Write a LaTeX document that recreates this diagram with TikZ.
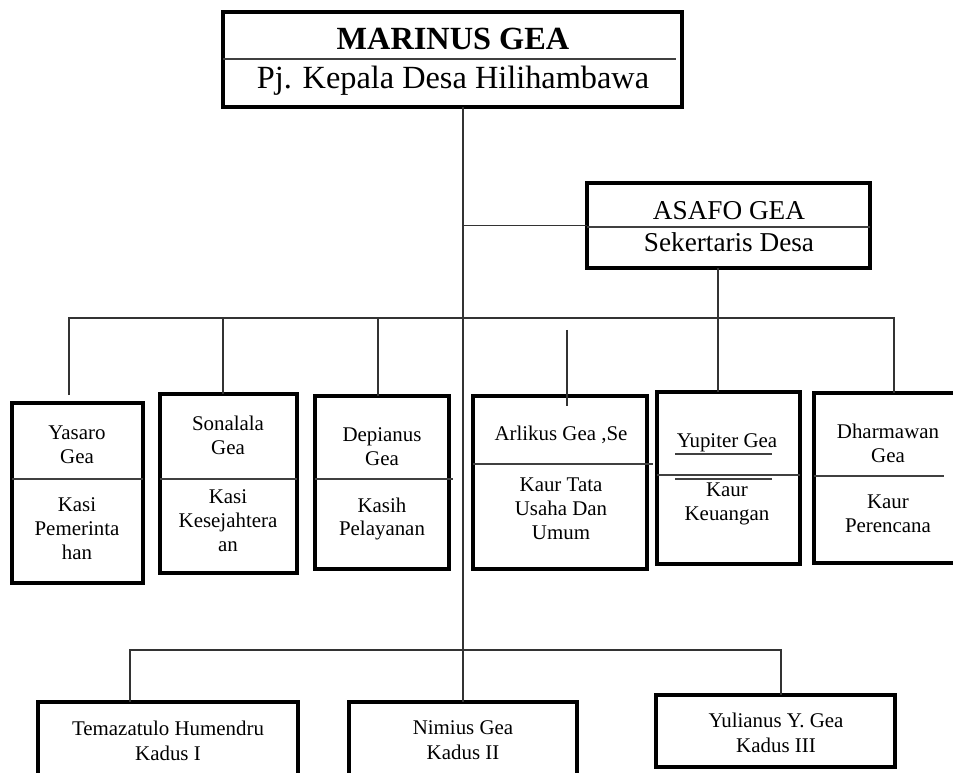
\documentclass[tikz,border=0pt]{standalone}
\usepackage{fontspec}
\setmainfont{Liberation Serif}
\tikzset{
  box/.style={draw, line width=2.3pt, inner sep=0pt, outer sep=0pt},
  link/.style={line width=0.85pt, black!80},
  sep/.style={line width=0.85pt, black!75},
  bigtxt/.style={font=\fontsize{18.4}{22}\selectfont, inner sep=0pt},
  midtxt/.style={font=\fontsize{15.5}{18}\selectfont, inner sep=0pt},
  smalltxt/.style={align=center, font=\fontsize{11.9}{13.6}\selectfont, inner sep=0pt},
  lowtxt/.style={align=center, font=\fontsize{11.9}{14.2}\selectfont, inner sep=0pt},
}
\begin{document}
\begin{tikzpicture}[x=0.02cm, y=-0.02cm]
\useasboundingbox (0,0) rectangle (953,773);
\clip (0,0) rectangle (953,773);

\node[box, minimum width=9.18cm, minimum height=1.9cm] (kades) at (452.5,59.5) {};
\node[box, minimum width=5.66cm, minimum height=1.7cm] (sekdes) at (728.5,225.5) {};
\node[box, minimum width=2.62cm, minimum height=3.6cm] (yasaro) at (77.5,493) {};
\node[box, minimum width=2.74cm, minimum height=3.58cm] (sonalala) at (228.5,483.5) {};
\node[box, minimum width=2.68cm, minimum height=3.46cm] (depianus) at (382,482.5) {};
\node[box, minimum width=3.48cm, minimum height=3.46cm] (arlikus) at (560,482.5) {};
\node[box, minimum width=2.86cm, minimum height=3.44cm] (yupiter) at (728.5,478) {};
\node[box, minimum width=3.02cm, minimum height=3.4cm] (dharmawan) at (889.5,478) {};
\node[box, minimum width=5.2cm, minimum height=1.96cm] (temazatulo) at (168,751) {};
\node[box, minimum width=4.56cm, minimum height=1.96cm] (nimius) at (463,751) {};
\node[box, minimum width=4.78cm, minimum height=1.44cm] (yulianus) at (775.5,731) {};

\draw[sep] (223,59) -- (676,59);
\draw[sep] (587,227) -- (870,227);
\draw[sep] (12,479) -- (143,479);
\draw[sep] (160,479) -- (297,479);
\draw[sep] (315,479) -- (453,479);
\draw[sep] (473,464) -- (653,464);
\draw[sep] (657,475) -- (800,475);
\draw[sep] (675,454) -- (772,454);
\draw[sep] (675,479) -- (772,479);
\draw[sep] (814,476) -- (944,476);

\node[bigtxt, anchor=base] (kadesN) at (453,50) {\textbf{MARINUS GEA}};
\node[bigtxt, anchor=base] (kadesJ) at (453,89) {Pj. Kepala Desa Hilihambawa};
\node[midtxt, anchor=base] (sekdesN) at (729,220) {ASAFO GEA};
\node[midtxt, anchor=base] (sekdesJ) at (729,252) {Sekertaris Desa};

\node[smalltxt] (yasaroN) at (77,445) {Yasaro\\Gea};
\node[smalltxt] (yasaroJ) at (77,529) {Kasi\\Pemerinta\\han};
\node[smalltxt] (sonalalaN) at (228,435.5) {Sonalala\\Gea};
\node[smalltxt] (sonalalaJ) at (228,520.5) {Kasi\\Kesejahtera\\an};
\node[smalltxt] (depianusN) at (382,446.5) {Depianus\\Gea};
\node[smalltxt] (depianusJ) at (382,519) {Kasih\\Pelayanan};
\node[smalltxt] (arlikusN) at (561,435) {Arlikus Gea ,Se};
\node[smalltxt] (arlikusJ) at (561,508.5) {Kaur Tata\\Usaha Dan\\Umum};
\node[smalltxt] (yupiterN) at (727,443) {Yupiter Gea};
\node[smalltxt] (yupiterJ) at (727,504) {Kaur\\Keuangan};
\node[smalltxt] (dharmawanN) at (888,443) {Dharmawan\\Gea};
\node[smalltxt] (dharmawanJ) at (888,514) {Kaur\\Perencana};

\node[lowtxt] (temazatuloN) at (168,740.5) {Temazatulo Humendru\\Kadus I};
\node[lowtxt] (nimiusN) at (463,740.5) {Nimius Gea\\Kadus II};
\node[lowtxt] (yulianusN) at (776,732.5) {Yulianus Y. Gea\\Kadus III};

\coordinate (d1) at (69,318);
\coordinate (d2) at (223,318);
\coordinate (d3) at (378,318);
\coordinate (d4) at (567,330);
\coordinate (d4e) at (567,406);
\coordinate (d5) at (718,318);
\coordinate (d6) at (894,318);
\coordinate (k1) at (130,650);
\coordinate (k3) at (781,650);

\draw[link] (kades.south -| nimius.north) -- (nimius.north);
\draw[link] (sekdes.west) -- (sekdes.west -| nimius.north);
\draw[link] (d1 |- yasaro.north) ++(0,-8) -- (d1) -- (d6) -- (d6 |- dharmawan.north);
\draw[link] (d2) -- (d2 |- sonalala.north);
\draw[link] (d3) -- (d3 |- depianus.north);
\draw[link] (d4) -- (d4e);
\draw[link] (d5 |- sekdes.south) -- (d5 |- yupiter.north);
\draw[link] (k1 |- temazatulo.north) -- (k1) -- (k3) -- (k3 |- yulianus.north);
\end{tikzpicture}
\end{document}
